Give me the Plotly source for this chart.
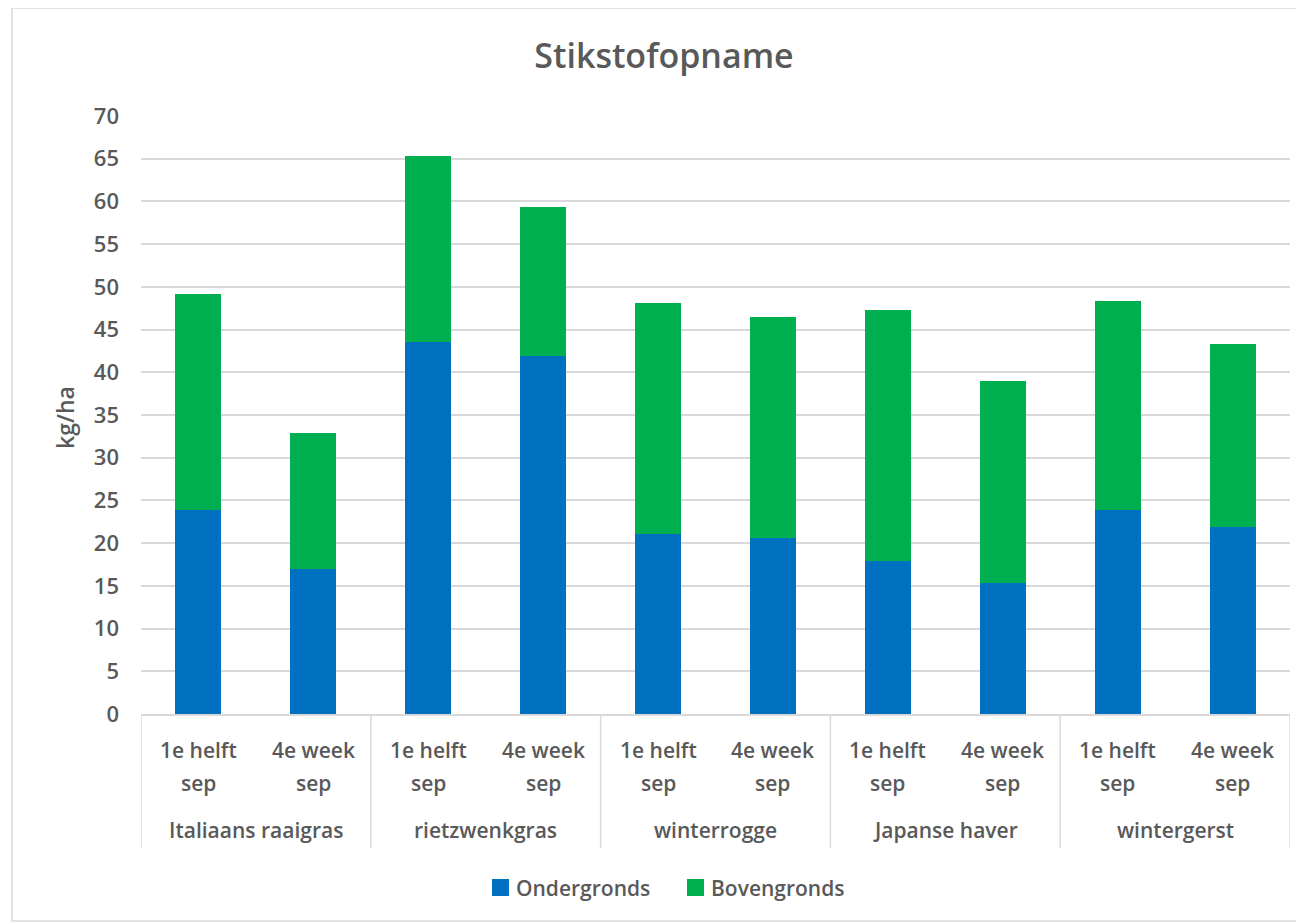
import plotly.graph_objects as go

groups = ["Italiaans raaigras", "rietzwenkgras", "winterrogge", "Japanse haver", "wintergerst"]
periods = ["1e helft|sep", "4e week|sep"]
ondergronds = [23.9, 17.0, 43.5, 41.9, 21.1, 20.6, 17.9, 15.3, 23.9, 21.9]
totaal = [49.2, 32.9, 65.3, 59.3, 48.1, 46.5, 47.3, 39.0, 48.3, 43.3]
bovengronds = [round(t - o, 2) for t, o in zip(totaal, ondergronds)]
series_names = ["Ondergronds", "Bovengronds"]
y_ticks = list(range(0, 75, 5))

BLUE = "#0070C0"
GREEN = "#00B050"
TXT = "#595959"
FONT = "Open Sans"

# page offset (body margin) compensation
OFF = 8
W, H = 1304 - OFF, 924 - OFF
L, R, T, B = 141 - OFF, 1290 - OFF, 116 - OFF, 714 - OFF
pw, ph = R - L, B - T


def py(p):
    return (B - (p - OFF)) / ph


def px(p):
    return ((p - OFF) - L) / pw


n = len(groups) * len(periods)
xs = list(range(n))

fig = go.Figure()
fig.add_trace(go.Bar(x=xs, y=ondergronds, name=series_names[0], marker_color=BLUE,
                     marker_line_width=0, showlegend=False))
fig.add_trace(go.Bar(x=xs, y=bovengronds, name=series_names[1], marker_color=GREEN,
                     marker_line_width=0, showlegend=False))

lab_font = dict(size=21, color=TXT, family=FONT, weight=600)
annotations = []
shapes = []
for i in xs:
    l1, l2 = periods[i % len(periods)].split("|")
    annotations.append(dict(x=i, y=py(750), xref="x", yref="paper", text=l1, showarrow=False,
                            font=lab_font, yanchor="middle"))
    annotations.append(dict(x=i, y=py(783), xref="x", yref="paper", text=l2, showarrow=False,
                            font=lab_font, yanchor="middle"))
for g, name in enumerate(groups):
    c = g * len(periods) + (len(periods) - 1) / 2
    annotations.append(dict(x=c, y=py(830), xref="x", yref="paper", text=name, showarrow=False,
                            font=lab_font, yanchor="middle"))
for g in range(len(groups) + 1):
    xb = g * len(periods) - 0.5
    shapes.append(dict(type="line", x0=xb, x1=xb, xref="x", y0=0, y1=py(848), yref="paper",
                       line=dict(color="#d9d9d9", width=1.5)))

# y-axis title
annotations.append(dict(x=px(65), y=py(418), xref="paper", yref="paper", text="kg/ha", textangle=-90,
                        xanchor="center", yanchor="middle",
                        showarrow=False, font=dict(size=23, color=TXT, family=FONT, weight=600)))

# manual legend
leg = [(series_names[0], BLUE, 492), (series_names[1], GREEN, 687)]
for name, col, x0 in leg:
    shapes.append(dict(type="rect", xref="paper", yref="paper", x0=px(x0), x1=px(x0 + 17),
                       y0=py(896), y1=py(879), fillcolor=col, line=dict(width=0)))
    annotations.append(dict(x=px(x0 + 22), y=py(888), xref="paper", yref="paper", text=name,
                            showarrow=False, xanchor="left", yanchor="middle",
                            font=dict(size=21, color=TXT, family=FONT, weight=600)))

# chart border
shapes.append(dict(type="rect", xref="paper", yref="paper", x0=px(12), x1=px(1300),
                   y0=py(921), y1=py(8), line=dict(color="#d9d9d9", width=1.5),
                   fillcolor="rgba(0,0,0,0)", layer="below"))

fig.update_layout(
    width=W, height=H,
    margin=dict(l=L, r=W - R, t=T, b=H - B),
    barmode="stack", bargap=0.6,
    plot_bgcolor="white", paper_bgcolor="white",
    showlegend=False,
    title=dict(text="Stikstofopname", x=px(664), xref="paper", xanchor="center",
               y=1 - (56 - OFF) / H, yanchor="middle",
               font=dict(size=34, color=TXT, family=FONT, weight=600)),
    xaxis=dict(range=[-0.5, n - 0.5], showticklabels=False, ticks="", showgrid=False,
               showline=True, linecolor="#d9d9d9", linewidth=1.5, zeroline=False),
    yaxis=dict(range=[0, 70], tickvals=y_ticks, showgrid=True, gridcolor="#d9d9d9", gridwidth=1.5,
               zeroline=False, showline=False, ticks="", ticklabelstandoff=21,
               tickfont=dict(size=22, color=TXT, family=FONT, weight=600)),
    annotations=annotations,
    shapes=shapes,
    font=dict(family=FONT, color=TXT),
)

fig.write_html("out.html")
